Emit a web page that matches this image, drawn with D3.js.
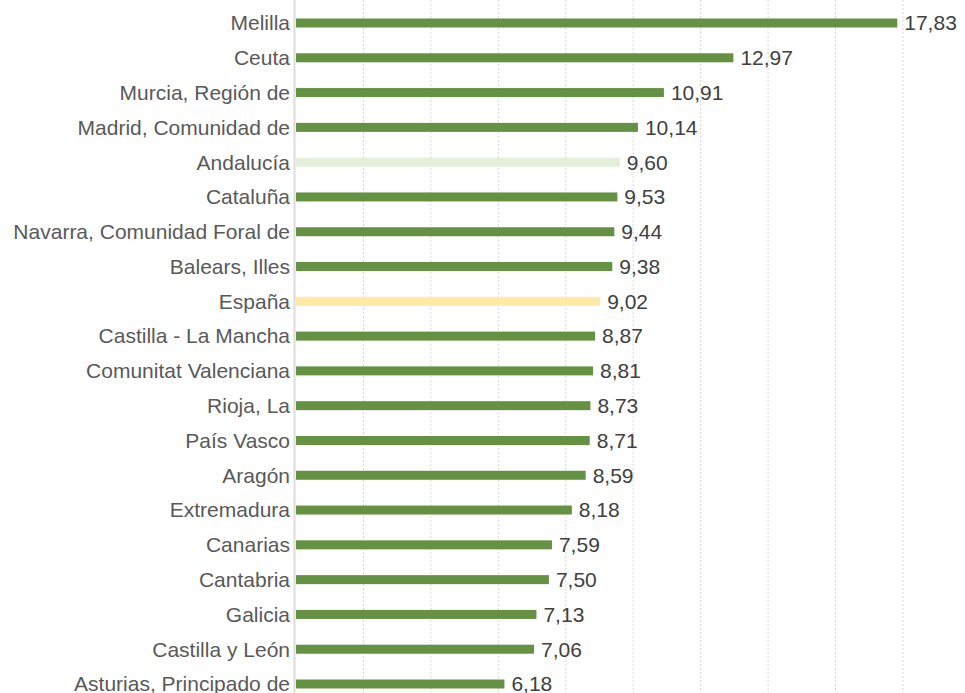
<!DOCTYPE html>
<html>
<head>
<meta charset="utf-8">
<script src="https://cdn.jsdelivr.net/npm/d3@7"></script>
<style>
  body { margin: 0; background: #fff; }
  svg { display: block; font-family: "Liberation Sans", Arial, sans-serif; }
</style>
</head>
<body>
<script>
// regiones y valores
var regiones = ["Melilla", "Ceuta", "Murcia, Región de", "Madrid, Comunidad de", "Andalucía",
  "Cataluña", "Navarra, Comunidad Foral de", "Balears, Illes", "España", "Castilla - La Mancha",
  "Comunitat Valenciana", "Rioja, La", "País Vasco", "Aragón", "Extremadura", "Canarias",
  "Cantabria", "Galicia", "Castilla y León", "Asturias, Principado de"];
var valores = [17.83, 12.97, 10.91, 10.14, 9.60, 9.53, 9.44, 9.38, 9.02, 8.87,
  8.81, 8.73, 8.71, 8.59, 8.18, 7.59, 7.50, 7.13, 7.06, 6.18];
var gridTicks = [2, 4, 6, 8, 10, 12, 14, 16, 18];

var data = regiones.map(function(r, i) { return { region: r, value: valores[i] }; });

var width = 965, height = 693;

var svg = d3.select("body").append("svg")
  .attr("width", width)
  .attr("height", height);

var x = d3.scaleLinear().domain([0, 18]).range([296, 903]);
var y = d3.scalePoint().domain(regiones).range([23, 684]);

function colorOf(d) {
  if (d.region === "Andalucía") return "#e4efdb";
  if (d.region === "España") return "#ffe9a6";
  return "#659142";
}

// gridlines
svg.append("g")
  .selectAll("line")
  .data(gridTicks)
  .enter().append("line")
    .attr("x1", function(d) { return x(d); })
    .attr("x2", function(d) { return x(d); })
    .attr("y1", 0)
    .attr("y2", height)
    .attr("stroke", "#d6d6d6")
    .attr("stroke-width", 1)
    .attr("stroke-dasharray", "2,2");

// eje
svg.append("line")
  .attr("x1", 294.5).attr("x2", 294.5)
  .attr("y1", 0).attr("y2", height)
  .attr("stroke", "#dcdcdc")
  .attr("stroke-width", 2);

var barH = 9;

svg.append("g")
  .selectAll("rect")
  .data(data)
  .enter().append("rect")
    .attr("x", x(0))
    .attr("y", function(d) { return y(d.region) - barH / 2; })
    .attr("width", function(d) { return x(d.value) - x(0); })
    .attr("height", barH)
    .attr("fill", colorOf);

// etiquetas de categoria
svg.append("g")
  .selectAll("text")
  .data(data)
  .enter().append("text")
    .attr("x", 290)
    .attr("y", function(d) { return y(d.region); })
    .attr("dy", "0.35em")
    .attr("text-anchor", "end")
    .attr("font-size", 21)
    .attr("fill", "#595959")
    .text(function(d) { return d.region; });

// valores
svg.append("g")
  .selectAll("text")
  .data(data)
  .enter().append("text")
    .attr("x", function(d) { return x(d.value) + 7; })
    .attr("y", function(d) { return y(d.region); })
    .attr("dy", "0.35em")
    .attr("font-size", 21)
    .attr("fill", "#404040")
    .text(function(d) { return d.value.toFixed(2).replace(".", ","); });
</script>
</body>
</html>
